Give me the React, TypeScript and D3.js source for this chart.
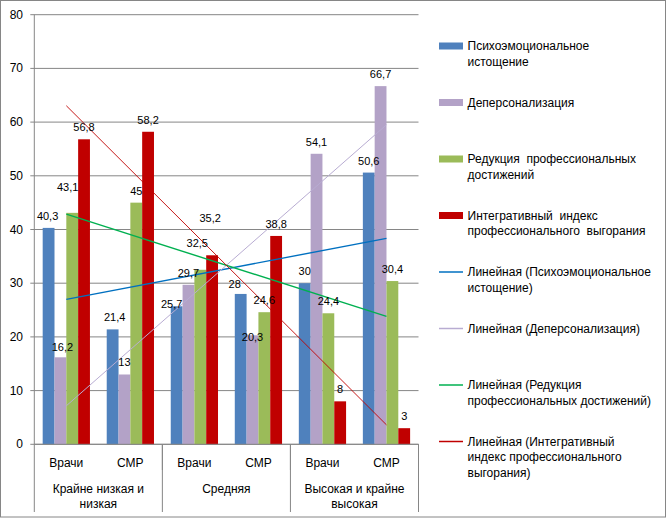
import React from "react";
import * as d3 from "d3";

const subCategories = ["Врачи", "СМР", "Врачи", "СМР", "Врачи", "СМР"];
const groupLabels = [
  ["Крайне низкая и", "низкая"],
  ["Средняя"],
  ["Высокая и крайне", "высокая"],
];
const seriesNames = [
  "Психоэмоциональное истощение",
  "Деперсонализация",
  "Редукция профессиональных достижений",
  "Интегративный индекс профессионального выгорания",
];
const exhaustion = [40.3, 21.4, 25.7, 28, 30, 50.6];
const depersonalization = [16.2, 13, 29.7, 20.3, 54.1, 66.7];
const reduction = [43.1, 45, 32.5, 24.6, 24.4, 30.4];
const integrative = [56.8, 58.2, 35.2, 38.8, 8, 3];
const yTicks = [0, 10, 20, 30, 40, 50, 60, 70, 80];

const legendLines = [
  ["Психоэмоциональное", "истощение"],
  ["Деперсонализация"],
  ["Редукция  профессиональных", "достижений"],
  ["Интегративный  индекс", "профессионального  выгорания"],
  ["Линейная (Психоэмоциональное", "истощение)"],
  ["Линейная (Деперсонализация)"],
  ["Линейная (Редукция", "профессиональных достижений)"],
  ["Линейная (Интегративный", "индекс профессионального", "выгорания)"],
];

const barColors = ["#4F81BD", "#B3A2C7", "#9BBB59", "#C00000"];
const trendColors = ["#0070C0", "#B8ACD2", "#00B050", "#C00000"];
const trendWidths = [1.4, 1, 1.4, 0.9];

const labelOffsets: Record<string, [number, number]> = {
  "0-0": [-1, 0],
  "1-0": [2, 2],
  "2-0": [-4.5, -14],
  "0-1": [2, 0],
  "0-2": [-5, 10],
  "2-2": [-3, -15],
  "3-2": [-2, -25],
  "0-3": [-6, 2],
  "1-3": [0, 14],
};

const fmt = (v: number) => String(v).replace(".", ",");

export default function App() {
  const W = 667;
  const H = 519;
  const left = 34.3;
  const right = 418.5;
  const top = 14.7;
  const bottom = 444.3;
  const font = "'Liberation Sans', Arial, sans-serif";
  const axisColor = "#868686";

  const series = [exhaustion, depersonalization, reduction, integrative];
  const idx = subCategories.map((_, i) => i);

  const x = d3.scaleBand<number>().domain(idx).range([left, right]).padding(0);
  const inner = d3
    .scaleBand<number>()
    .domain([0, 1, 2, 3])
    .range([0, x.bandwidth()])
    .paddingInner(0)
    .paddingOuter(0.71);
  const y = d3.scaleLinear().domain([0, 80]).range([bottom, top]);

  // linear trend lines (least squares over category index 1..6)
  const trends = series.map((vals) => {
    const xs = vals.map((_, i) => i + 1);
    const mx = d3.mean(xs)!;
    const my = d3.mean(vals)!;
    const sxy = d3.sum(vals, (v, i) => (xs[i] - mx) * (v - my));
    const sxx = d3.sum(xs, (v) => (v - mx) * (v - mx));
    const b = sxy / sxx;
    const a = my - b * mx;
    return [1, 6].map((k) => ({ k, v: a + b * k }));
  });
  const line = d3
    .line<{ k: number; v: number }>()
    .x((d) => x(d.k - 1)! + x.bandwidth() / 2)
    .y((d) => y(d.v));

  const groupBounds = [0, 2, 4, 6].map((g) =>
    g < 6 ? x(g)! : right
  );
  const subBounds = [1, 3, 5].map((g) => x(g)! + x.bandwidth());

  const legendX = 439;
  const legendTextX = 467.5;
  const legendY0 = 46;
  const legendStep = 56.5;

  return (
    <div style={{ position: "absolute", left: 0, top: 0 }}>
      <svg width={W} height={H} style={{ display: "block", background: "#fff" }}>
        <rect x={0.5} y={0.5} width={665} height={516.5} fill="#fff" stroke={axisColor} />
        {/* gridlines + y ticks */}
        {yTicks.map((t) => (
          <g key={t}>
            <line x1={30.3} x2={right} y1={y(t)} y2={y(t)} stroke={axisColor} strokeWidth={1} />
            <text
              x={23}
              y={y(t)}
              textAnchor="end"
              dominantBaseline="central"
              fontFamily={font}
              fontSize={12}
              fill="#000"
            >
              {t}
            </text>
          </g>
        ))}
        {/* y axis */}
        <line x1={left} x2={left} y1={top} y2={bottom} stroke={axisColor} />
        {/* bars */}
        {series.map((vals, s) =>
          vals.map((v, i) => (
            <rect
              key={`${s}-${i}`}
              x={x(i)! + inner(s)!}
              y={y(v)}
              width={inner.bandwidth()}
              height={bottom - y(v)}
              fill={barColors[s]}
            />
          ))
        )}
        {/* x axis */}
        <line x1={left} x2={right} y1={bottom} y2={bottom} stroke={axisColor} />
        {subBounds.map((b, i) => (
          <line key={`sb${i}`} x1={b} x2={b} y1={bottom} y2={470} stroke={axisColor} />
        ))}
        {groupBounds.map((b, i) => (
          <line key={`gb${i}`} x1={b} x2={b} y1={bottom} y2={512} stroke={axisColor} />
        ))}
        {subCategories.map((c, i) => (
          <text
            key={`c${i}`}
            x={x(i)! + x.bandwidth() / 2}
            y={462.7}
            textAnchor="middle"
            dominantBaseline="central"
            fontFamily={font}
            fontSize={12}
            fill="#000"
          >
            {c}
          </text>
        ))}
        {groupLabels.map((lines, g) =>
          lines.map((l, j) => (
            <text
              key={`g${g}-${j}`}
              x={x(g * 2)! + x.bandwidth()}
              y={488.5 + j * 15}
              textAnchor="middle"
              dominantBaseline="central"
              fontFamily={font}
              fontSize={12}
              fill="#000"
            >
              {l}
            </text>
          ))
        )}
        {/* trend lines */}
        {trends.map((t, s) => (
          <path
            key={`t${s}`}
            d={line(t)!}
            fill="none"
            stroke={trendColors[s]}
            strokeWidth={trendWidths[s]}
          />
        ))}
        {/* data labels */}
        {series.map((vals, s) =>
          vals.map((v, i) => {
            const off = labelOffsets[`${s}-${i}`] || [0, 0];
            return (
              <text
                key={`l${s}-${i}`}
                x={x(i)! + inner(s)! + inner.bandwidth() / 2 + off[0]}
                y={y(v) - 12 + off[1]}
                textAnchor="middle"
                dominantBaseline="central"
                fontFamily={font}
                fontSize={11}
                fill="#000"
              >
                {fmt(v)}
              </text>
            );
          })
        )}
        {/* legend */}
        {legendLines.map((lines, k) => {
          const cy = legendY0 + k * legendStep;
          const isBar = k < 4;
          const s = k % 4;
          return (
            <g key={`leg${k}`}>
              {isBar ? (
                <rect x={legendX} y={cy - 3.5} width={24} height={7} fill={barColors[s]} />
              ) : (
                <line
                  x1={legendX}
                  x2={legendX + 24}
                  y1={cy}
                  y2={cy}
                  stroke={trendColors[s]}
                  strokeWidth={1.5}
                />
              )}
              {lines.map((l, j) => (
                <text
                  key={j}
                  x={legendTextX}
                  y={cy + j * 15.5}
                  dominantBaseline="central"
                  fontFamily={font}
                  fontSize={12}
                  fill="#000"
                  style={{ whiteSpace: "pre" }}
                >
                  {l}
                </text>
              ))}
            </g>
          );
        })}
      </svg>
    </div>
  );
}
